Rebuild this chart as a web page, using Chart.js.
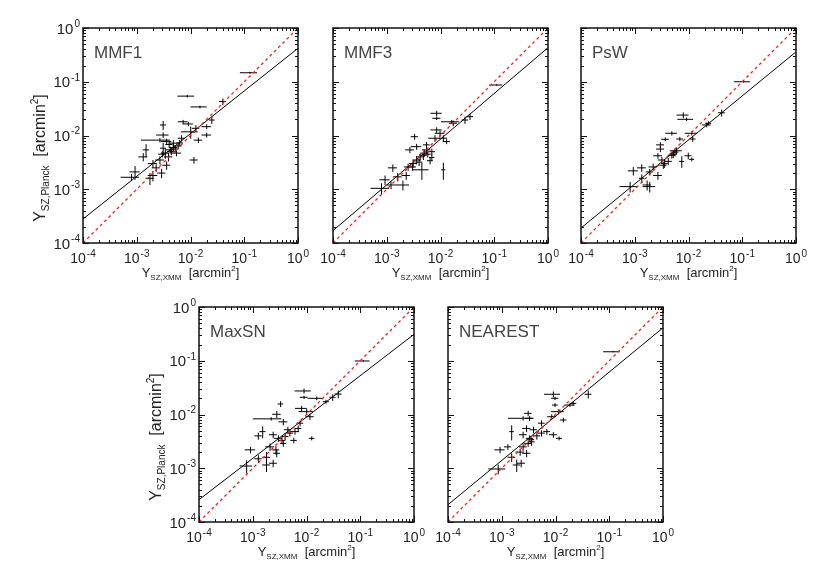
<!DOCTYPE html>
<html><head><meta charset="utf-8">
<script src="https://cdn.jsdelivr.net/npm/chart.js@4.4.1/dist/chart.umd.min.js"></script>
<style>
html,body{margin:0;padding:0;background:#fff;width:830px;height:581px;overflow:hidden;}
canvas.p{position:absolute;}
</style></head><body>
<canvas id="c1" class="p" width="305" height="280" style="left:13px;top:13px"></canvas>
<canvas id="c2" class="p" width="305" height="280" style="left:263px;top:13px"></canvas>
<canvas id="c3" class="p" width="305" height="280" style="left:511px;top:13px"></canvas>
<canvas id="c4" class="p" width="305" height="280" style="left:129px;top:292px"></canvas>
<canvas id="c5" class="p" width="305" height="280" style="left:378px;top:292px"></canvas>
<script>
const panelNames = ['MMF1','MMF3','PsW','MaxSN','NEAREST'];
const tickExponents = [-4, -3, -2, -1, 0];
const fitLow  = [2.8e-4, 1.7e-4, 1.9e-4, 2.6e-4, 2.1e-4];
const fitHigh = [0.42, 0.43, 0.36, 0.31, 0.41];

const mmf1X  = [0.128,0.0087,0.015,0.040,0.025,0.0073,0.0091,0.0101,0.0126,0.020,0.020,0.014,0.0116,0.0031,0.0031,0.0027,0.0036,0.0048,0.0059,0.0068,0.00149,0.00132,0.0031,0.0034,0.0039,0.0027,0.0020,0.0055,0.0023,0.0020,0.00176,0.00093,0.0008,0.0029,0.0036,0.0048,0.0042,0.0040,0.0044,0.0030,0.0052,0.0063];
const mmf1Y  = [0.147,0.054,0.034,0.043,0.0194,0.018,0.0164,0.0117,0.0136,0.0146,0.0102,0.0082,0.0035,0.0157,0.0102,0.0082,0.0077,0.0072,0.0064,0.0089,0.0054,0.0040,0.0058,0.0047,0.0040,0.0035,0.0030,0.0047,0.0025,0.0018,0.0016,0.0021,0.00167,0.0020,0.0028,0.0060,0.0054,0.0068,0.0050,0.0045,0.0056,0.0073];
const mmf1Ex = [0.045,0.003,0.005,0.006,0.003,0.0015,0.002,0.0035,0.002,0.004,0.004,0.0025,0.002,0.0004,0.0008,0.0015,0.0008,0.0008,0.001,0.001,0.0002,0.00025,0.0004,0.0006,0.0007,0.0005,0.0004,0.0012,0.0004,0.0004,0.0003,0.0002,0.0003,0.0005,0.0006,0.0008,0.0007,0.0006,0.0007,0.0005,0.0008,0.0009];
const mmf1Ey = [0.006,0.003,0.002,0.006,0.003,0.0015,0.0015,0.003,0.002,0.0015,0.001,0.001,0.0005,0.003,0.0012,0.0008,0.001,0.001,0.0008,0.0012,0.0015,0.0007,0.0015,0.001,0.0007,0.0006,0.0005,0.0006,0.0004,0.0004,0.0004,0.0006,0.00025,0.0004,0.0005,0.001,0.0008,0.0009,0.0007,0.0006,0.0008,0.001];

const mmf3X  = [0.111,0.0354,0.0286,0.0173,0.0162,0.0085,0.0085,0.0085,0.0098,0.0079,0.0113,0.013,0.0033,0.0036,0.0027,0.0055,0.0069,0.0048,0.0036,0.0031,0.0025,0.0045,0.0113,0.0064,0.0013,0.0016,0.0023,0.0020,0.00093,0.0008,0.0012,0.0030,0.0055,0.0050,0.0069,0.0042,0.0040,0.0058];
const mmf3Y  = [0.087,0.0224,0.0194,0.0169,0.018,0.0259,0.0209,0.0127,0.011,0.0089,0.0089,0.0077,0.0095,0.0062,0.0054,0.0054,0.005,0.0043,0.0035,0.0030,0.0026,0.0023,0.0023,0.0034,0.0025,0.0017,0.0018,0.0012,0.0015,0.00104,0.0012,0.0026,0.0067,0.0047,0.0039,0.0040,0.0032,0.0045];
const mmf3Ex = [0.03,0.005,0.004,0.003,0.006,0.002,0.0015,0.002,0.002,0.002,0.002,0.002,0.0005,0.0008,0.0005,0.001,0.001,0.0008,0.0006,0.0005,0.0004,0.0015,0.001,0.0008,0.00025,0.0003,0.0004,0.0006,0.0002,0.0003,0.0002,0.0005,0.0008,0.0008,0.0008,0.0007,0.0006,0.0008];
const mmf3Ey = [0.003,0.003,0.003,0.002,0.0015,0.003,0.0015,0.0015,0.0015,0.0012,0.0012,0.0008,0.0012,0.0008,0.0007,0.0008,0.0007,0.0008,0.0006,0.0005,0.0004,0.0008,0.0008,0.0005,0.0004,0.0003,0.0003,0.00025,0.0003,0.00025,0.0002,0.0004,0.0009,0.0007,0.0005,0.0006,0.0005,0.0006];

const pswX  = [0.105,0.0414,0.0218,0.0080,0.0092,0.0234,0.0049,0.0115,0.0069,0.0120,0.0037,0.0030,0.0060,0.0099,0.0075,0.0115,0.0027,0.0032,0.0034,0.0049,0.0022,0.0019,0.0027,0.00135,0.00094,0.00135,0.0019,0.0017,0.00082,0.0030,0.0042,0.0056,0.0036,0.0052];
const pswY  = [0.100,0.0265,0.0157,0.024,0.020,0.0169,0.011,0.011,0.0086,0.0086,0.0085,0.0056,0.0052,0.0042,0.0033,0.0036,0.0042,0.0035,0.0028,0.0043,0.0026,0.0021,0.0018,0.0025,0.0022,0.0016,0.00112,0.0012,0.00112,0.0067,0.0033,0.0049,0.0030,0.0045];
const pswEx = [0.035,0.006,0.004,0.002,0.003,0.003,0.0012,0.003,0.001,0.0015,0.0006,0.0005,0.0015,0.0015,0.0008,0.0012,0.0005,0.0005,0.0005,0.0008,0.0004,0.0003,0.0005,0.00025,0.0002,0.00015,0.0005,0.0003,0.0003,0.0005,0.0007,0.0009,0.0005,0.0008];
const pswEy = [0.003,0.004,0.0015,0.003,0.0015,0.0015,0.001,0.001,0.0008,0.001,0.0007,0.0007,0.0008,0.0006,0.0008,0.0003,0.0005,0.0005,0.0004,0.0006,0.0004,0.0003,0.0003,0.0004,0.0004,0.0003,0.00025,0.00025,0.00025,0.0008,0.0005,0.0008,0.0005,0.0007];

const maxsnX  = [0.114,0.039,0.0307,0.0231,0.0155,0.0090,0.0090,0.0081,0.0101,0.0116,0.0125,0.0033,0.0028,0.0022,0.0037,0.00153,0.00127,0.0024,0.0030,0.0040,0.0049,0.0061,0.0070,0.0037,0.0027,0.0028,0.0021,0.00091,0.00127,0.0018,0.0018,0.0024,0.00077,0.0058,0.0076,0.0035,0.0045];
const maxsnY  = [0.099,0.024,0.0209,0.0173,0.020,0.0274,0.0209,0.013,0.0113,0.0091,0.0036,0.0157,0.0101,0.0083,0.0073,0.0048,0.0040,0.0042,0.0036,0.0039,0.0045,0.0048,0.0055,0.0029,0.0022,0.0019,0.0025,0.0022,0.0015,0.0016,0.00115,0.00124,0.0011,0.0033,0.0069,0.0033,0.0052];
const maxsnEx = [0.035,0.006,0.004,0.003,0.005,0.003,0.0015,0.002,0.003,0.002,0.0015,0.0004,0.0005,0.0012,0.0007,0.0002,0.0002,0.0004,0.0005,0.0006,0.0007,0.0012,0.001,0.0005,0.0004,0.0004,0.0004,0.0002,0.0002,0.0003,0.0003,0.0004,0.0002,0.0008,0.0011,0.0005,0.0007];
const maxsnEy = [0.003,0.004,0.003,0.0015,0.0015,0.003,0.0015,0.0015,0.0015,0.0012,0.0003,0.002,0.0015,0.0006,0.001,0.0012,0.0006,0.0006,0.0005,0.0006,0.0006,0.0006,0.0007,0.0004,0.0004,0.0003,0.0004,0.0003,0.00025,0.0004,0.0003,0.0002,0.0003,0.0004,0.0009,0.0005,0.0007];

const nearX  = [0.117,0.0407,0.0214,0.0186,0.0091,0.0098,0.0098,0.0113,0.0085,0.014,0.0031,0.0025,0.0033,0.00153,0.0029,0.0039,0.0055,0.0069,0.0091,0.0117,0.0025,0.0033,0.0031,0.0035,0.0025,0.0013,0.00093,0.0022,0.0029,0.00153,0.0019,0.0023,0.00086,0.0055,0.0045,0.0036];
const nearY  = [0.147,0.0238,0.0161,0.015,0.0238,0.020,0.015,0.0113,0.0091,0.0079,0.0105,0.0085,0.0085,0.0048,0.0055,0.0052,0.0045,0.0048,0.0042,0.0036,0.0042,0.0036,0.0029,0.0034,0.0025,0.0025,0.0022,0.0020,0.0019,0.0016,0.00115,0.00124,0.00097,0.0069,0.0040,0.0031];
const nearEx = [0.04,0.006,0.003,0.004,0.003,0.0015,0.0012,0.003,0.0015,0.002,0.0005,0.0012,0.0006,0.00015,0.0005,0.0006,0.0008,0.001,0.0015,0.0015,0.0004,0.0005,0.0005,0.0005,0.0004,0.0002,0.0002,0.0004,0.0005,0.00025,0.0003,0.0004,0.0003,0.0008,0.0007,0.0005];
const nearEy = [0.004,0.004,0.0015,0.0012,0.003,0.0015,0.0012,0.0012,0.001,0.0008,0.0012,0.0008,0.0009,0.0015,0.0008,0.0007,0.0006,0.0006,0.0005,0.0003,0.0006,0.0005,0.0004,0.0005,0.0004,0.0003,0.0003,0.0003,0.0003,0.0003,0.0003,0.0002,0.0002,0.0009,0.0006,0.0005];

const FONT = '"Liberation Sans", Arial, sans-serif';

const errPlugin = {
  id: 'errbars',
  beforeDatasetsDraw(chart) {
    const ds = chart.data.datasets[0];
    const xs = chart.scales.x, ys = chart.scales.y, ctx = chart.ctx, a = chart.chartArea;
    ctx.save();
    ctx.beginPath(); ctx.rect(a.left, a.top, a.width, a.height); ctx.clip();
    ctx.strokeStyle = '#000'; ctx.lineWidth = 1;
    ctx.beginPath();
    ds.data.forEach(p => {
      const px = xs.getPixelForValue(p.x), py = ys.getPixelForValue(p.y);
      ctx.moveTo(xs.getPixelForValue(p.x - p.ex), py); ctx.lineTo(xs.getPixelForValue(p.x + p.ex), py);
      ctx.moveTo(px, ys.getPixelForValue(p.y - p.ey)); ctx.lineTo(px, ys.getPixelForValue(p.y + p.ey));
    });
    ctx.stroke();
    ctx.restore();
  }
};

function drawRich(ctx, segs, cx, y) {
  let w = 0;
  segs.forEach(s => { ctx.font = s.size + 'px ' + FONT; s.w = ctx.measureText(s.t).width; w += s.w; });
  let x = cx - w / 2;
  segs.forEach(s => { ctx.font = s.size + 'px ' + FONT; ctx.fillText(s.t, x, y + s.dy); x += s.w; });
}

function drawPow(ctx, e, x, y, bs, es, align) {
  const et = String(e);
  ctx.font = bs + 'px ' + FONT;
  const wb = ctx.measureText('10').width;
  ctx.font = es + 'px ' + FONT;
  const we = ctx.measureText(et).width;
  const total = wb + 1 + we;
  const sx = align === 'center' ? x - total / 2 : x - total;
  ctx.font = bs + 'px ' + FONT;
  ctx.fillText('10', sx, y);
  ctx.font = es + 'px ' + FONT;
  ctx.fillText(et, sx + wb + 1, y - bs * 0.45);
}

const framePlugin = {
  id: 'frame',
  afterDraw(chart, args, opts) {
    const ctx = chart.ctx, a = chart.chartArea, xs = chart.scales.x, ys = chart.scales.y;
    ctx.save();
    ctx.strokeStyle = '#111'; ctx.lineWidth = 1;
    ctx.beginPath();
    for (let e = -4; e <= 0; e++) {
      for (let m = 1; m <= 9; m++) {
        const v = m * Math.pow(10, e);
        if (v > 1.0000001) break;
        const L = m === 1 ? 6 : 3;
        const px = Math.round(xs.getPixelForValue(v)) + 0.5;
        ctx.moveTo(px, a.bottom); ctx.lineTo(px, a.bottom - L);
        ctx.moveTo(px, a.top); ctx.lineTo(px, a.top + L);
        const py = Math.round(ys.getPixelForValue(v)) + 0.5;
        ctx.moveTo(a.left, py); ctx.lineTo(a.left + L, py);
        ctx.moveTo(a.right, py); ctx.lineTo(a.right - L, py);
      }
    }
    ctx.stroke();
    ctx.lineWidth = 1.5; ctx.strokeStyle = '#111';
    ctx.strokeRect(a.left, a.top, a.width, a.height);

    ctx.textBaseline = 'alphabetic'; ctx.textAlign = 'left';
    ctx.fillStyle = '#222';
    tickExponents.forEach(e => {
      const v = Math.pow(10, e);
      drawPow(ctx, e, xs.getPixelForValue(v), a.bottom + 20, 14, 10, 'center');
      if (opts.showY) drawPow(ctx, e, a.left - 3, ys.getPixelForValue(v) + 5.5, 15, 10, 'right');
    });

    ctx.fillStyle = '#444';
    ctx.font = '17px ' + FONT;
    ctx.fillText(opts.name, a.left + 11, a.top + 30);
    ctx.fillStyle = '#222';
    drawRich(ctx, [
      {t: 'Y', size: 13, dy: 0},
      {t: 'SZ,XMM', size: 8, dy: 3},
      {t: '  [arcmin', size: 13, dy: 0},
      {t: '2', size: 8, dy: -6},
      {t: ']', size: 13, dy: 0}
    ], (a.left + a.right) / 2, a.bottom + 34);
    if (opts.showY) {
      ctx.save();
      ctx.translate(a.left - 38, a.top + 130);
      ctx.rotate(-Math.PI / 2);
      drawRich(ctx, [
        {t: 'Y', size: 16, dy: 0},
        {t: 'SZ,Planck', size: 10, dy: 4},
        {t: '  [arcmin', size: 16, dy: 0},
        {t: '2', size: 10, dy: -7},
        {t: ']', size: 16, dy: 0}
      ], 0, 0);
      ctx.restore();
    }
    ctx.restore();
  }
};

function makeChart(id, idx, X, Y, EX, EY, showY) {
  const pts = X.map((x, i) => ({x: x, y: Y[i], ex: EX[i], ey: EY[i]}));
  new Chart(document.getElementById(id), {
    type: 'scatter',
    data: {datasets: [
      {data: pts, pointRadius: 0, pointHoverRadius: 0, showLine: false},
      {data: [{x: 1e-4, y: 1e-4}, {x: 1, y: 1}], showLine: true, borderColor: '#ff1a1a', borderWidth: 1.3, borderDash: [3, 3], pointRadius: 0},
      {data: [{x: 1e-4, y: fitLow[idx]}, {x: 1, y: fitHigh[idx]}], showLine: true, borderColor: '#000', borderWidth: 1, pointRadius: 0}
    ]},
    options: {
      responsive: false, animation: false, devicePixelRatio: 1,
      events: [],
      layout: {padding: {left: 0, right: 20, top: 15, bottom: 0}},
      plugins: {legend: {display: false}, tooltip: {enabled: false}, frame: {name: panelNames[idx], showY: showY}},
      scales: {
        x: {type: 'logarithmic', min: 1e-4, max: 1,
            grid: {display: false, drawTicks: false, tickLength: 0}, border: {display: false},
            ticks: {display: false},
            afterFit: s => { s.height = 50; }},
        y: {type: 'logarithmic', min: 1e-4, max: 1,
            grid: {display: false, drawTicks: false, tickLength: 0}, border: {display: false},
            ticks: {display: false},
            afterFit: s => { s.width = 70; }}
      }
    },
    plugins: [errPlugin, framePlugin]
  });
}

makeChart('c1', 0, mmf1X, mmf1Y, mmf1Ex, mmf1Ey, true);
makeChart('c2', 1, mmf3X, mmf3Y, mmf3Ex, mmf3Ey, false);
makeChart('c3', 2, pswX, pswY, pswEx, pswEy, false);
makeChart('c4', 3, maxsnX, maxsnY, maxsnEx, maxsnEy, true);
makeChart('c5', 4, nearX, nearY, nearEx, nearEy, false);
</script>
</body></html>
